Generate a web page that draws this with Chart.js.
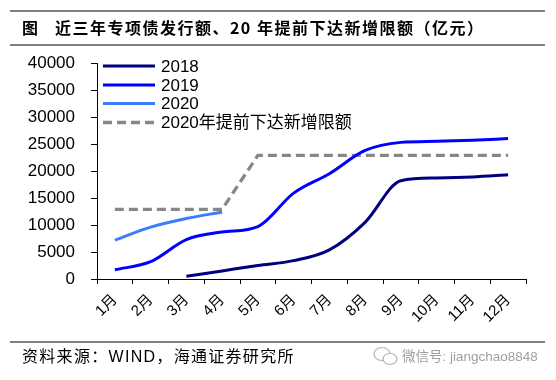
<!DOCTYPE html>
<html><head><meta charset="utf-8">
<script src="https://cdn.jsdelivr.net/npm/chart.js@4/dist/chart.umd.min.js"></script>
<style>
html,body{margin:0;padding:0;background:#fff;}
#wrap{position:relative;width:556px;height:380px;overflow:hidden;font-family:"Liberation Sans","Noto Sans CJK SC",sans-serif;}
canvas{position:absolute;left:0;top:0;}
.hl{position:absolute;left:10px;width:535px;height:2px;background:#7f7f7f;}
#title{position:absolute;left:22px;top:15px;font-size:16px;font-weight:bold;color:#000;font-family:"Noto Sans CJK SC",sans-serif;white-space:nowrap;letter-spacing:1.5px;}
#src{position:absolute;left:22px;top:343px;font-size:16px;color:#000;font-family:"Liberation Sans","Noto Sans CJK SC",sans-serif;white-space:nowrap;letter-spacing:1.3px;}
#wm{position:absolute;left:402px;top:345px;font-size:13.5px;color:#a0a0a0;font-family:"Liberation Sans","Noto Sans CJK SC",sans-serif;white-space:nowrap;}
#ic{position:absolute;left:372px;top:345px;}
</style></head>
<body><div id="wrap">
<canvas id="c" width="556" height="380"></canvas>
<div class="hl" style="top:10px"></div>
<div id="title">图&nbsp;&nbsp;&nbsp;近三年专项债发行额、20 年提前下达新增限额（亿元）</div>
<div class="hl" style="top:44px"></div>
<div class="hl" style="top:341px"></div>
<div id="src">资料来源：WIND，海通证券研究所</div>
<svg id="ic" width="28" height="22" viewBox="0 0 28 22"><ellipse cx="10" cy="9" rx="8" ry="6.5" fill="none" stroke="#b0b0b0" stroke-width="1.2"/><ellipse cx="18" cy="14" rx="7" ry="5.5" fill="#fff" stroke="#b0b0b0" stroke-width="1.2"/></svg>
<div id="wm">微信号: jiangchao8848</div>
</div>
<script>
const categories = ['1月','2月','3月','4月','5月','6月','7月','8月','9月','10月','11月','12月'];
const s2018 = [null, null, 500, 1500, 2500, 3400, 5400, 10500, 18200, 18700, 18900, 19300];
const s2019 = [1700, 3200, 7300, 8700, 9700, 15900, 19500, 23800, 25300, 25500, 25700, 26000];
const s2020 = [7200, 9600, 11200, 12400, null, null, null, null, null, null, null, null];
const quota2020 = [12900, 12900, 12900, 12900, 22900, 22900, 22900, 22900, 22900, 22900, 22900, 22900];
const seriesNames = ['2018', '2019', '2020', '2020年提前下达新增限额'];
const yTicks = {min: 0, max: 40000, step: 5000};

const legendPlugin = {
  id: 'customLegend',
  afterDraw(chart) {
    const ctx = chart.ctx;
    const x0 = 103, x1 = 155, tx = 161;
    const rows = [66, 85, 103.5, 122.5];
    chart.data.datasets.forEach((ds, i) => {
      const y = rows[i];
      ctx.save();
      ctx.strokeStyle = ds.borderColor;
      ctx.lineWidth = ds.borderWidth;
      ctx.setLineDash(ds.borderDash || []);
      ctx.beginPath(); ctx.moveTo(x0, y); ctx.lineTo(x1, y); ctx.stroke();
      ctx.setLineDash([]);
      ctx.fillStyle = '#000';
      ctx.font = '17px "Liberation Sans", "Noto Sans CJK SC", sans-serif';
      ctx.textBaseline = 'middle';
      ctx.fillText(ds.label, tx, y + 1);
      ctx.restore();
    });
  }
};

const solid = {borderWidth: 3, tension: 0.4, cubicInterpolationMode: 'monotone', pointRadius: 0, fill: false};

new Chart(document.getElementById('c'), {
  type: 'line',
  data: {
    labels: categories,
    datasets: [
      Object.assign({label: seriesNames[0], data: s2018, borderColor: '#000080'}, solid),
      Object.assign({label: seriesNames[1], data: s2019, borderColor: '#0000ff'}, solid),
      Object.assign({label: seriesNames[2], data: s2020, borderColor: '#3b7dff'}, solid),
      {label: seriesNames[3], data: quota2020, borderColor: '#878787', borderWidth: 3.3, borderDash: [9, 5], tension: 0, pointRadius: 0, fill: false}
    ]
  },
  options: {
    responsive: false,
    animation: false,
    devicePixelRatio: 1,
    layout: {padding: {top: 63, right: 30, bottom: 41, left: 0}},
    plugins: {legend: {display: false}, title: {display: false}, tooltip: {enabled: false}},
    scales: {
      x: {
        offset: true,
        grid: {offset: true, drawOnChartArea: false, drawTicks: true, tickLength: 5, color: '#000', lineWidth: 1},
        border: {display: true, color: '#000', width: 1},
        ticks: {color: '#000', font: {size: 15, family: '"Liberation Sans", "Noto Sans CJK SC", sans-serif'}, minRotation: 45, maxRotation: 45, padding: 7, autoSkip: false},
        afterFit(scale) { scale.height = 60; }
      },
      y: {
        min: yTicks.min, max: yTicks.max,
        grid: {drawOnChartArea: false, drawTicks: true, tickLength: 6, color: '#000', lineWidth: 1},
        border: {display: true, color: '#000', width: 1},
        ticks: {stepSize: yTicks.step, color: '#000', font: {size: 17, family: '"Liberation Sans", sans-serif'}, padding: 16, callback: v => String(v)},
        afterFit(scale) { scale.width = 97; }
      }
    }
  },
  plugins: [legendPlugin]
});
</script>
</body></html>
